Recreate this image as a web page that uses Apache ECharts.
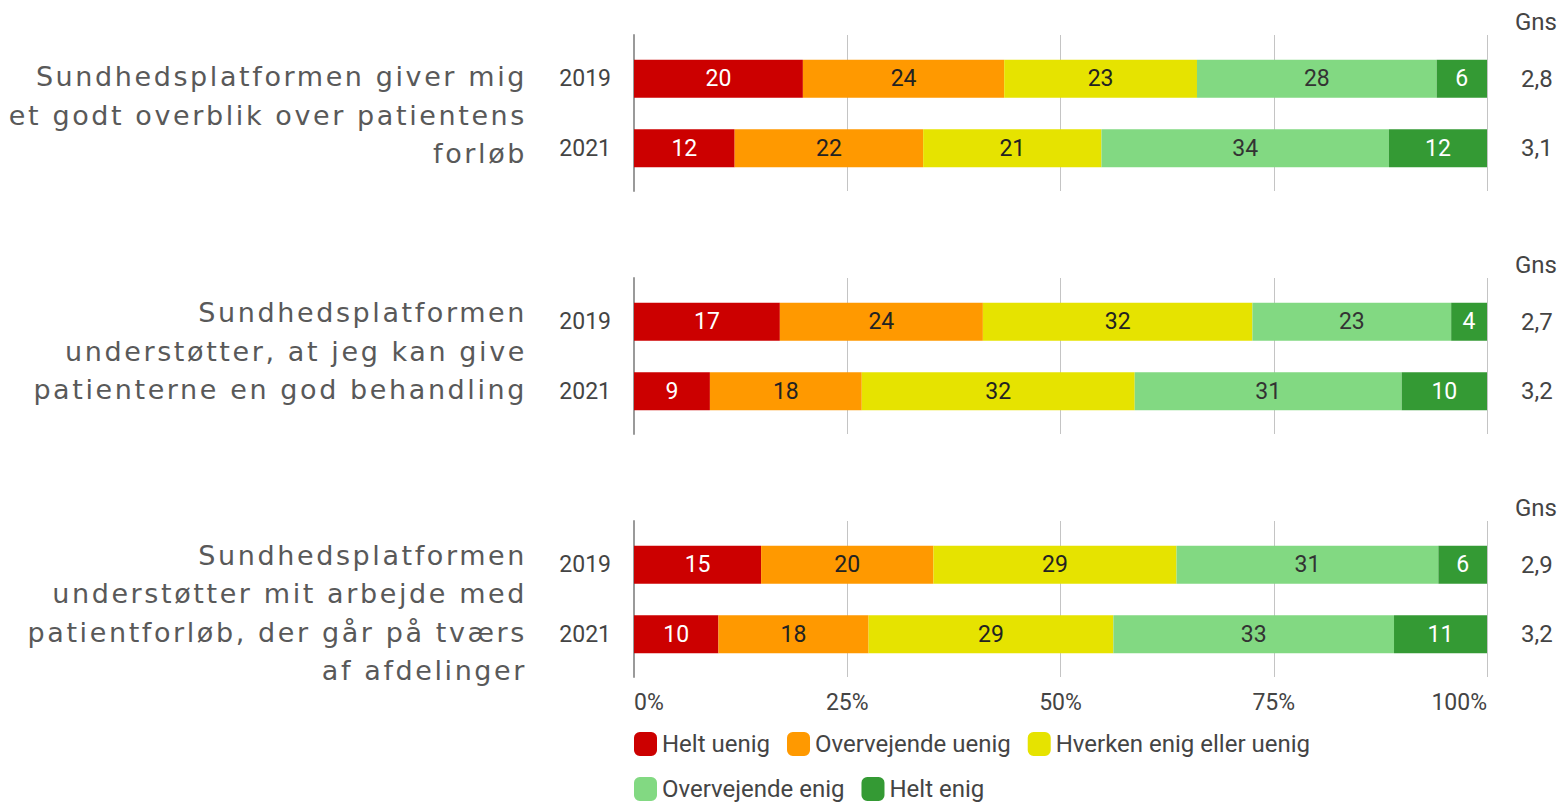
<!DOCTYPE html>
<html><head><meta charset="UTF-8">
<title>Sundhedsplatformen</title>
<script src="https://cdn.jsdelivr.net/npm/echarts@6/dist/echarts.min.js"></script>
<style>
  *{margin:0;padding:0;}
  html,body{width:100%;height:100%;background:#fff;}
  #main{width:1559px;height:802px;}
  /* spørgsmålsteksten har luft mellem bogstaverne */
  #main text[style*="DejaVu"]{letter-spacing:2.6px;}
</style>
</head>
<body>
<div id="main"></div>
<script>
// svarkategorier
var categories = ['Helt uenig', 'Overvejende uenig', 'Hverken enig eller uenig', 'Overvejende enig', 'Helt enig'];
var colors = ['#cc0000', '#ff9900', '#e6e300', '#82d982', '#349a34'];
var labelColors = ['#ffffff', '#222222', '#222222', '#333333', '#ffffff'];
var years = ['2019', '2021'];
var ticks = ['0%', '25%', '50%', '75%', '100%'];

var questions = [
  'Sundhedsplatformen giver mig\net godt overblik over patientens\nforløb',
  'Sundhedsplatformen\nunderstøtter, at jeg kan give\npatienterne en god behandling',
  'Sundhedsplatformen\nunderstøtter mit arbejde med\npatientforløb, der går på tværs\naf afdelinger'
];

// andele i procent (aflæst), rækkefølge som categories
var q1_2019 = [19.8, 23.6, 22.6, 28.1, 5.9];
var q1_2021 = [11.8, 22.1, 20.9, 33.7, 11.5];
var q2_2019 = [17.1, 23.8, 31.6, 23.3, 4.2];
var q2_2021 = [8.9, 17.8, 32.0, 31.3, 10.0];
var q3_2019 = [14.9, 20.2, 28.5, 30.7, 5.7];
var q3_2021 = [9.9, 17.6, 28.7, 32.9, 10.9];

// gennemsnit
var q1Gns = ['2,8', '3,1'];
var q2Gns = ['2,7', '3,2'];
var q3Gns = ['2,9', '3,2'];

var panels = [
  {y2019: q1_2019, y2021: q1_2021, gns: q1Gns, top: 35, textY: 115},
  {y2019: q2_2019, y2021: q2_2021, gns: q2Gns, top: 278, textY: 351},
  {y2019: q3_2019, y2021: q3_2021, gns: q3Gns, top: 521, textY: 613}
];

var FONT = 'Roboto, "Liberation Sans", sans-serif';
var grids = [], xAxes = [], yAxes = [], series = [], graphics = [];

panels.forEach(function (p, i) {
  // ramme med lodrette linjer
  grids.push({left: 634, right: 72, top: p.top, height: 156});
  // selve søjlerne
  grids.push({left: 634, right: 72, top: p.top + 9, height: 139});

  xAxes.push({
    gridIndex: 2 * i, type: 'value', min: 0, max: 100, interval: 25,
    axisLine: {show: false}, axisTick: {show: false},
    splitLine: {show: true, lineStyle: {color: '#c4c4c4', width: 1}},
    axisLabel: {
      show: i === 2, margin: 14, fontSize: 23, color: '#444', fontFamily: FONT,
      alignMinLabel: 'left', alignMaxLabel: 'right',
      formatter: function (v) { return ticks[v / 25]; }
    }
  });
  xAxes.push({gridIndex: 2 * i + 1, type: 'value', min: 0, max: 100, show: false});

  yAxes.push({
    gridIndex: 2 * i, type: 'value', min: 0, max: 1,
    axisLine: {show: true, lineStyle: {color: '#9a9a9a', width: 2}},
    axisTick: {show: false}, axisLabel: {show: false}, splitLine: {show: false}
  });
  yAxes.push({
    gridIndex: 2 * i + 1, type: 'category', data: years, inverse: true,
    axisLine: {show: false}, axisTick: {show: false},
    axisLabel: {margin: 23, fontSize: 23, color: '#444', fontFamily: FONT}
  });
  yAxes.push({
    gridIndex: 2 * i + 1, type: 'category', data: p.gns, inverse: true, position: 'right',
    axisLine: {show: false}, axisTick: {show: false},
    axisLabel: {margin: 34, fontSize: 24, color: '#444', fontFamily: FONT}
  });

  categories.forEach(function (c, k) {
    series.push({
      name: c, type: 'bar', stack: 'p' + i,
      xAxisIndex: 2 * i + 1, yAxisIndex: 3 * i + 1,
      barWidth: 38,
      data: [p.y2019[k], p.y2021[k]],
      itemStyle: {color: colors[k]},
      label: {
        show: true, position: 'inside', fontSize: 23, fontFamily: FONT,
        color: labelColors[k],
        formatter: function (d) { return Math.round(d.value); }
      }
    });
  });

  graphics.push({
    type: 'text', x: 527, y: p.textY,
    style: {
      text: questions[i], textAlign: 'right', textVerticalAlign: 'middle',
      fontSize: 27, lineHeight: 38.5, fontFamily: 'DejaVu Sans',
      fill: '#595959'
    }
  });
  graphics.push({
    type: 'text', x: 1536, y: p.top - 13,
    style: {
      text: 'Gns', textAlign: 'center', textVerticalAlign: 'middle',
      fontSize: 24, fontFamily: FONT, fill: '#444'
    }
  });
});

var chart = echarts.init(document.getElementById('main'), null, {renderer: 'svg'});
chart.setOption({
  animation: false,
  grid: grids,
  xAxis: xAxes,
  yAxis: yAxes,
  series: series,
  graphic: graphics,
  legend: {
    data: categories,
    left: 634, top: 730, width: 720, padding: 0,
    itemWidth: 23, itemHeight: 24, itemGap: 17, icon: 'roundRect',
    textStyle: {fontSize: 24, lineHeight: 28, color: '#444', fontFamily: FONT}
  }
});
</script>
</body></html>
